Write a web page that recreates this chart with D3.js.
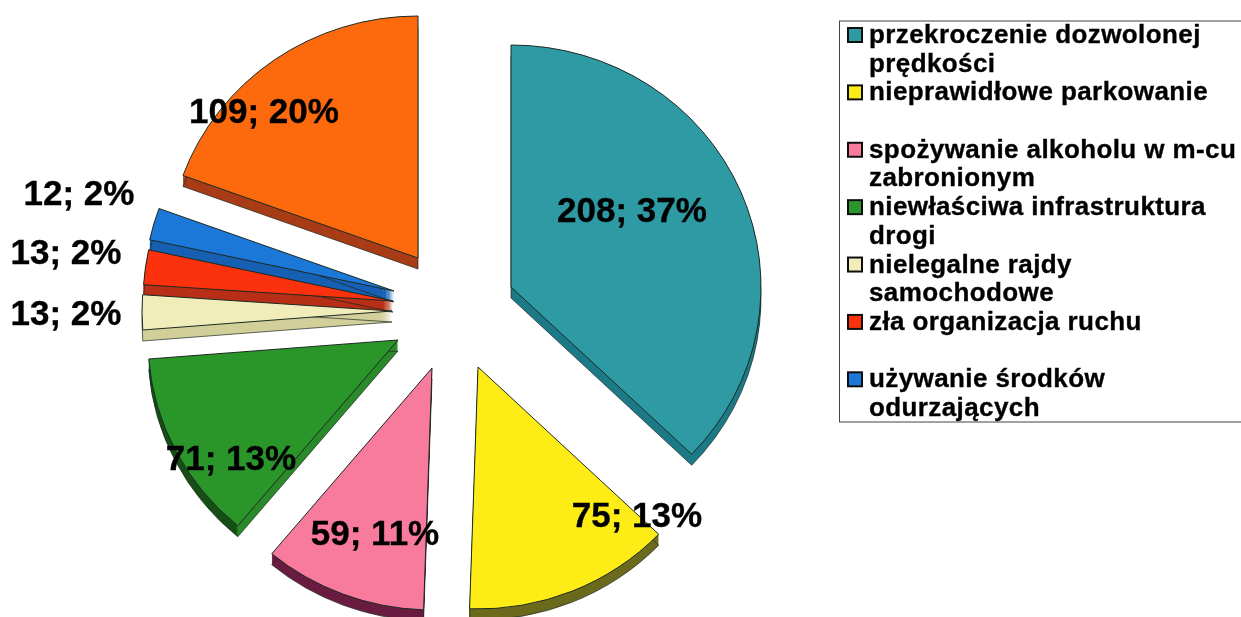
<!DOCTYPE html>
<html><head><meta charset="utf-8">
<script src="https://cdn.jsdelivr.net/npm/d3@7/dist/d3.min.js"></script>
<style>html,body{margin:0;padding:0;background:#fff;overflow:hidden}svg{display:block}text{font-family:"Liberation Sans",Arial,sans-serif;font-weight:700;fill:#050505;stroke:#050505;stroke-width:0.35px}</style>
</head><body><svg id="c" width="1241" height="617"></svg>
<script>
// Data
const values = [208, 75, 59, 71, 13, 13, 12, 109];
const percents = [37, 13, 11, 13, 2, 2, 2, 20];
const legendLines = [
  ["przekroczenie dozwolonej", "prędkości"],
  ["nieprawidłowe parkowanie", ""],
  ["spożywanie alkoholu w m-cu", "zabronionym"],
  ["niewłaściwa infrastruktura", "drogi"],
  ["nielegalne rajdy", "samochodowe"],
  ["zła organizacja ruchu", ""],
  ["używanie środków", "odurzających"]
];
// Styles
const topColors  = ["#2d9aa3","#fdec12","#f87a9c","#2a962c","#f1edba","#fb3208","#1c78d8","#fd6a10"];
const sideColors = ["#1c7a88","#6c6a1c","#6a1f42","url(#greenSide)","#d2cf9a","#b82f14","#1460b4","#a83c16"];
// Layout: where each exploded slice's apex sits, and each value label
const apexes = [[511,287],[478,367],[432,368],[398,340],[392,311],[393,301],[394,291],[418,258]];
const labelAnchors = [[632,222],[637,527],[375,545],[231,470],[66,325],[66,264],[79,205],[264,123]];
const drawOrder = [7,6,5,4,3,0,2,1];
const rx = 250, ry = 242, depth = 11;

const svg = d3.select("#c");
const defs = svg.append("defs");
defs.append("filter").attr("id","soft").append("feGaussianBlur").attr("stdDeviation",0.45);
const greenSide = defs.append("linearGradient").attr("id","greenSide");
[[0.35,"#124f16"],[0.36,"#2a8a2c"]].forEach(([o,c]) =>
  greenSide.append("stop").attr("offset",o).attr("stop-color",c));
const root = svg.append("g").attr("filter","url(#soft)");

const pie = d3.pie().sort(null).startAngle(0).endAngle(2*Math.PI);
const arcs = pie(values);
const arc = d3.arc().innerRadius(0).outerRadius(rx);

const slices = root.selectAll("g.slice").data(drawOrder).join("g").attr("class","slice");
slices.each(function(i){
  const g = d3.select(this), d = arcs[i], [ax,ay] = apexes[i];
  const place = off => `translate(${ax},${ay+off}) scale(1,${ry/rx})`;
  g.selectAll("path.side").data(d3.range(depth,0,-1)).join("path")
    .attr("class","side").attr("d",arc(d)).attr("transform",place)
    .attr("fill",sideColors[i]);
  g.append("path").attr("d",arc(d)).attr("transform",place(depth))
    .attr("fill","none").attr("stroke","#1c2a22").attr("stroke-width",0.7)
    .attr("vector-effect","non-scaling-stroke");
  g.append("path").attr("d",arc(d)).attr("transform",place(0))
    .attr("fill",topColors[i]).attr("stroke","#1c2a22").attr("stroke-width",1)
    .attr("vector-effect","non-scaling-stroke");
});

root.selectAll("text.val").data(values).join("text").attr("class","val")
  .attr("x",(d,i)=>labelAnchors[i][0]).attr("y",(d,i)=>labelAnchors[i][1])
  .attr("text-anchor","middle").attr("font-size",35)
  .text((d,i)=>`${d}; ${percents[i]}%`);

// Legend
const yRow = d3.scaleLinear().domain([0,13]).range([43,416]);
const lg = root.append("g");
lg.append("rect").attr("x",839.5).attr("y",21).attr("width",420).attr("height",401)
  .attr("fill","#fff").attr("stroke","#444").attr("stroke-width",1);
const items = lg.selectAll("g.it").data(legendLines).join("g").attr("class","it");
items.append("rect").attr("x",848).attr("y",(d,i)=>yRow(2*i)-15).attr("width",14).attr("height",14)
  .attr("fill",(d,i)=>topColors[i]).attr("stroke","#111").attr("stroke-width",2);
items.selectAll("text").data((d,i)=>d.map((t,k)=>({t,row:2*i+k}))).join("text")
  .attr("x",869).attr("y",d=>yRow(d.row)).attr("font-size",26).attr("letter-spacing",0.4)
  .text(d=>d.t);
</script></body></html>
